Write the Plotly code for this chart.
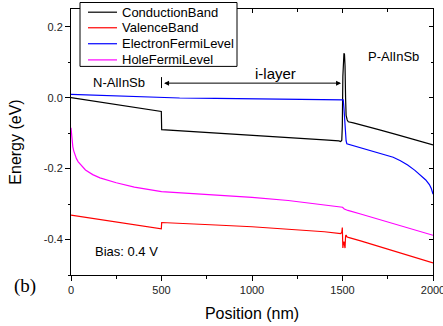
import plotly.graph_objects as go

# Conduction band
cb_x = [0, 100, 200, 300, 400, 499, 501, 600, 700, 800, 900, 1000, 1100, 1200, 1300, 1400, 1480, 1490,
        1496, 1499, 1502, 1505, 1508, 1511, 1514, 1517, 1520, 1526, 1532, 1560, 1600, 1700, 1800, 1900, 2000]
cb_y = [0.0, -0.008, -0.016, -0.024, -0.031, -0.039, -0.09, -0.093, -0.097, -0.100, -0.103, -0.106, -0.109,
        -0.112, -0.115, -0.119, -0.122, -0.124, -0.12, -0.08, 0.06, 0.115, 0.125, 0.122, 0.09, 0.0, -0.05,
        -0.063, -0.068, -0.071, -0.076, -0.09, -0.104, -0.119, -0.133]

# Valence band
vb_x = [0, 100, 200, 300, 400, 499, 501, 600, 800, 1000, 1200, 1400, 1490, 1496, 1499, 1502, 1505, 1508,
        1511, 1514, 1517, 1520, 1524, 1532, 1600, 1800, 2000]
vb_y = [-0.331, -0.339, -0.347, -0.355, -0.362, -0.37, -0.352, -0.355, -0.359, -0.364, -0.37, -0.378, -0.383,
        -0.38, -0.366, -0.424, -0.41, -0.406, -0.424, -0.424, -0.39, -0.387, -0.392, -0.394, -0.404, -0.435, -0.466]

# Electron quasi-Fermi level
ef_x = [0, 100, 200, 300, 400, 500, 600, 800, 1000, 1200, 1400, 1500, 1504, 1508, 1512, 1516, 1520, 1524,
        1600, 1700, 1780, 1820, 1860, 1900, 1930, 1960, 1980, 1990, 2000]
ef_y = [0.0095, 0.0075, 0.0055, 0.0035, 0.0015, 0.0, -0.001, -0.002, -0.003, -0.003, -0.004, -0.004, -0.006,
        -0.03, -0.07, -0.1, -0.122, -0.13, -0.141, -0.155, -0.168, -0.178, -0.19, -0.205, -0.218, -0.232,
        -0.245, -0.255, -0.272]

# Hole quasi-Fermi level
hf_x = [0, 2, 5, 10, 15, 20, 30, 40, 60, 80, 120, 160, 250, 350, 500, 650, 800, 1000, 1200, 1400, 1500,
        1510, 1530, 1600, 1800, 2000]
hf_y = [-0.085, -0.1, -0.12, -0.138, -0.15, -0.16, -0.172, -0.181, -0.194, -0.204, -0.217, -0.226, -0.24,
        -0.252, -0.265, -0.27, -0.274, -0.281, -0.29, -0.302, -0.309, -0.314, -0.318, -0.328, -0.358, -0.388]

series_names = ["ConductionBand", "ValenceBand", "ElectronFermiLevel", "HoleFermiLevel"]
series_colors = ["#000000", "#ff0000", "#0000ff", "#ff00ff"]

x_ticks = [0, 500, 1000, 1500, 2000]
x_ticktext = ["0", "500", "1000", "1500", "2000"]
y_ticks = [-0.4, -0.2, 0.0, 0.2]
y_ticktext = ["-0.4", "-0.2", "0.0", "0.2"]
x_range = [0, 2000]
y_range = [-0.5, 0.25]

FONT = "Liberation Sans, Arial, sans-serif"

W, H = 443, 326
ML, MR, MT, MB = 71, 10, 8.5, 51
PW, PH = W - ML - MR, H - MT - MB


def px_x(p):
    return (p - ML) / PW


def px_y(p):
    return (H - MB - p) / PH


fig = go.Figure()
for xs, ys, name, color in zip([cb_x, vb_x, ef_x, hf_x], [cb_y, vb_y, ef_y, hf_y], series_names, series_colors):
    fig.add_trace(go.Scatter(x=xs, y=ys, mode="lines", name=name, showlegend=False,
                             line=dict(color=color, width=1.2)))

# dummy trace for mirrored top/right axes
fig.add_trace(go.Scatter(x=[None], y=[None], xaxis="x2", yaxis="y2", showlegend=False, hoverinfo="skip"))

axis_common = dict(showgrid=False, zeroline=False, showline=True, linecolor="black", linewidth=1,
                   automargin=False)

fig.update_layout(
    width=W, height=H,
    margin=dict(l=ML, r=MR, t=MT, b=MB, autoexpand=False),
    paper_bgcolor="white", plot_bgcolor="white",
    font=dict(family=FONT, size=13, color="black"),
    xaxis=dict(range=x_range, tickmode="array", tickvals=x_ticks, ticktext=x_ticktext,
               ticks="outside", ticklen=5, tickcolor="black", tickfont=dict(size=11, color="#222"),
               ticklabeloverflow="allow",
               minor=dict(dtick=250, ticks="outside", ticklen=2.5, tickcolor="black"),
               title=dict(text="Position (nm)", font=dict(size=16), standoff=12), **axis_common),
    yaxis=dict(range=y_range, tickmode="array", tickvals=y_ticks, ticktext=y_ticktext,
               ticks="outside", ticklen=5, tickcolor="black", tickfont=dict(size=11, color="#222"),
               minor=dict(dtick=0.1, tick0=0, ticks="outside", ticklen=2.5, tickcolor="black"),
               title=dict(text="Energy (eV)", font=dict(size=16), standoff=18), **axis_common),
    xaxis2=dict(range=x_range, overlaying="x", side="top", tickmode="array", tickvals=x_ticks,
                showticklabels=False, ticks="inside", ticklen=4, tickcolor="black",
                minor=dict(dtick=250, ticks="inside", ticklen=2.5, tickcolor="black"), **axis_common),
    yaxis2=dict(range=y_range, overlaying="y", side="right", tickmode="array", tickvals=y_ticks,
                showticklabels=False, ticks="inside", ticklen=4, tickcolor="black",
                minor=dict(dtick=0.1, tick0=0, ticks="inside", ticklen=2.5, tickcolor="black"), **axis_common),
    showlegend=False,
)

# legend box drawn by hand (Origin-style compact legend)
fig.add_shape(type="rect", xref="paper", yref="paper", layer="above",
              x0=px_x(80), x1=px_x(237), y0=px_y(66), y1=px_y(2),
              fillcolor="white", line=dict(color="black", width=1))
leg_rows = [11.7, 27.3, 43.3, 59.5]
for name, color, row in zip(series_names, series_colors, leg_rows):
    fig.add_shape(type="line", xref="paper", yref="paper", layer="above",
                  x0=px_x(88), x1=px_x(117), y0=px_y(row), y1=px_y(row),
                  line=dict(color=color, width=1.2))
    fig.add_annotation(xref="paper", yref="paper", x=px_x(119.5), y=px_y(row), xanchor="left",
                       yanchor="middle", text=name, showarrow=False, font=dict(size=13))

# annotations
fig.add_annotation(x=1492, y=0.041, ax=506, ay=0.041, xref="x", yref="y", axref="x", ayref="y",
                   text="", showarrow=True, arrowhead=2, arrowside="end+start", arrowsize=1,
                   arrowwidth=1, arrowcolor="black")
fig.add_shape(type="line", x0=500, x1=500, y0=0.027, y1=0.058, xref="x", yref="y",
              line=dict(color="black", width=1))
fig.add_annotation(x=1130, y=0.069, text="i-layer", showarrow=False, font=dict(size=15))
fig.add_annotation(x=265, y=0.044, text="N-AlInSb", showarrow=False, font=dict(size=13))
fig.add_annotation(x=1784, y=0.115, text="P-AlInSb", showarrow=False, font=dict(size=13))
fig.add_annotation(x=309, y=-0.435, text="Bias: 0.4 V", showarrow=False, font=dict(size=13))
fig.add_annotation(x=px_x(12), y=px_y(299), xref="paper", yref="paper", text="(b)", showarrow=False,
                   font=dict(size=19, family="Liberation Serif, Times New Roman, serif"))

fig.write_html("out.html", config={"displayModeBar": False},
               post_script="document.body.style.margin='0px';document.body.style.overflow='hidden';")
